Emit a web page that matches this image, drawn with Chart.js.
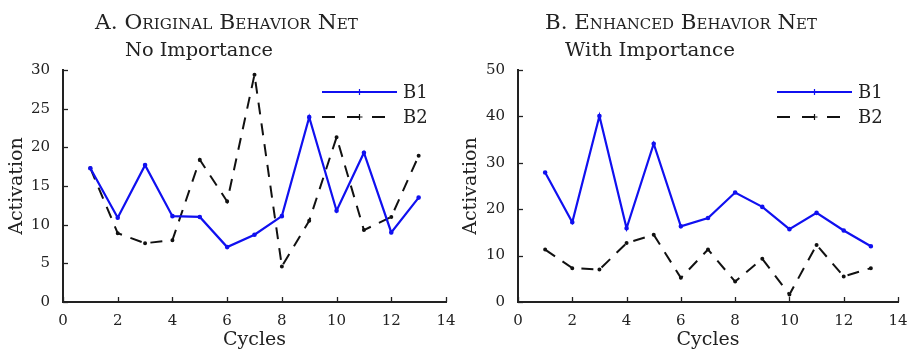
<!DOCTYPE html>
<html><head><meta charset="utf-8">
<script src="https://cdn.jsdelivr.net/npm/chart.js@4/dist/chart.umd.min.js"></script>
<style>
html,body{margin:0;padding:0;background:#fff;}
body{width:915px;height:357px;overflow:hidden;position:relative;}
.c{position:absolute;top:0;height:357px;}
.t{position:absolute;white-space:nowrap;color:#222;font-family:"DejaVu Serif",serif;transform-origin:0 0;line-height:1;}
.sc{font-variant:small-caps;font-size:20px;}
.sub{font-size:18px;}
</style></head><body>
<div class="c" style="left:0;width:460px"><canvas id="a" width="460" height="357"></canvas></div>
<div class="c" style="left:460px;width:455px"><canvas id="b" width="455" height="357"></canvas></div>
<div class="t sc" data-w="263" style="left:95px;top:12px">A. Original Behavior Net</div>
<div class="t sub" data-w="148" style="left:125px;top:41px">No Importance</div>
<div class="t sc" data-w="272" style="left:545px;top:12px">B. Enhanced Behavior Net</div>
<div class="t sub" data-w="170" style="left:565px;top:41px">With Importance</div>
<script>
// ---- data ----
const cycles = [1,2,3,4,5,6,7,8,9,10,11,12,13];
const origB1 = [17.3,10.9,17.7,11.1,11.0,7.1,8.7,11.1,23.9,11.8,19.3,9.0,13.5];
const origB2 = [17.3,8.9,7.6,8.0,18.4,13.0,29.4,4.6,10.5,21.3,9.3,11.0,18.9];
const enhB1  = [27.9,17.2,40.1,15.9,34.1,16.3,18.1,23.6,20.5,15.7,19.2,15.4,12.0];
const enhB2  = [11.3,7.3,7.0,12.7,14.5,5.2,11.3,4.4,9.3,1.6,12.3,5.5,7.3];
const seriesNames = ['B1','B2'];
const xTicks = [0,2,4,6,8,10,12,14];
const yTicksA = [0,5,10,15,20,25,30];
const yTicksB = [0,10,20,30,40,50];

// fit titles to widths
document.querySelectorAll('.t').forEach(el=>{
  const w = el.getBoundingClientRect().width;
  const target = +el.dataset.w;
  el.style.transform = 'scaleX(' + (target / w) + ')';
});

const BLUE = '#1010f0';
const INK = '#222';

const inwardTicks = {
  id:'inwardTicks',
  afterDraw(chart){
    const {ctx, chartArea:a, scales:{x,y}} = chart;
    ctx.save();
    ctx.strokeStyle = INK; ctx.lineWidth = 1.3;
    x.ticks.forEach(t=>{
      const px = Math.round(x.getPixelForValue(t.value)) + 0.5;
      ctx.beginPath(); ctx.moveTo(px, a.bottom); ctx.lineTo(px, a.bottom - 5); ctx.stroke();
    });
    y.ticks.forEach(t=>{
      const py = Math.round(y.getPixelForValue(t.value)) + 0.5;
      ctx.beginPath(); ctx.moveTo(a.left, py); ctx.lineTo(a.left + 5, py); ctx.stroke();
    });
    ctx.restore();
  }
};

const innerLegend = {
  id:'innerLegend',
  afterDatasetsDraw(chart, args, opts){
    const {ctx, chartArea:a} = chart;
    ctx.save();
    chart.data.datasets.forEach((ds,i)=>{
      const x1 = a.right + opts.dx, x2 = x1 + 75;
      const y = a.top + 22 + i * 25;
      ctx.strokeStyle = ds.borderColor;
      ctx.lineWidth = ds.borderWidth;
      ctx.setLineDash(ds.borderDash ? [13,12] : []);
      ctx.beginPath(); ctx.moveTo(x1, y); ctx.lineTo(x2, y); ctx.stroke();
      ctx.setLineDash([]);
      const cx = (x1+x2)/2;
      ctx.lineWidth = 1.2;
      ctx.beginPath(); ctx.moveTo(cx-3, y); ctx.lineTo(cx+3, y); ctx.moveTo(cx, y-3); ctx.lineTo(cx, y+3); ctx.stroke();
      ctx.fillStyle = INK;
      ctx.font = '18px "DejaVu Serif"';
      ctx.textBaseline = 'middle';
      ctx.fillText(ds.label, x2 + 6, y + 1);
    });
    ctx.restore();
  }
};

function makeChart(id, b1, b2, yMax, yW, padR, titlePad, legendDx){
  const mk = arr => arr.map((v,i)=>({x:cycles[i], y:v}));
  return new Chart(document.getElementById(id), {
    type:'line',
    data:{datasets:[
      {label:seriesNames[0], data:mk(b1), borderColor:BLUE, backgroundColor:BLUE, borderWidth:2.2, pointRadius:1.2, pointHoverRadius:0, tension:0},
      {label:seriesNames[1], data:mk(b2), borderColor:'#111', backgroundColor:'#111', borderWidth:2, borderDash:[12,9], pointRadius:1, pointHoverRadius:0, tension:0}
    ]},
    options:{
      responsive:false, animation:false,
      events:[],
      layout:{padding:{top:70, right:padR, left:0, bottom:0}},
      plugins:{legend:{display:false}, tooltip:{enabled:false}, title:{display:false}, innerLegend:{dx:legendDx}},
      scales:{
        x:{type:'linear', min:0, max:14,
           afterFit: s => { s.height = 55; },
           afterBuildTicks: s => { s.ticks = xTicks.map(v=>({value:v})); },
           grid:{display:false},
           border:{display:true, color:INK, width:2},
           ticks:{color:'#222', padding:2, maxRotation:0, autoSkip:false, font:{family:'DejaVu Serif', size:15}},
           title:{display:true, text:'Cycles', color:'#222', padding:{top:0,bottom:7}, font:{family:'DejaVu Serif', size:19, lineHeight:1}}
        },
        y:{type:'linear', min:0, max:yMax,
           afterFit: s => { s.width = yW; },
           afterBuildTicks: s => { s.ticks = (yMax===30?yTicksA:yTicksB).map(v=>({value:v})); },
           grid:{display:false},
           border:{display:true, color:INK, width:2},
           ticks:{color:'#222', padding:5, autoSkip:false, font:{family:'DejaVu Serif', size:15}},
           title:{display:true, text:'Activation', color:'#222', padding:{top:titlePad,bottom:0}, font:{family:'DejaVu Serif', size:19, lineHeight:1}}
        }
      }
    },
    plugins:[inwardTicks, innerLegend]
  });
}
makeChart('a', origB1, origB2, 30, 63, 14, 8, -124);
makeChart('b', enhB1, enhB2, 50, 58, 17, 2, -121);
</script>
</body></html>
